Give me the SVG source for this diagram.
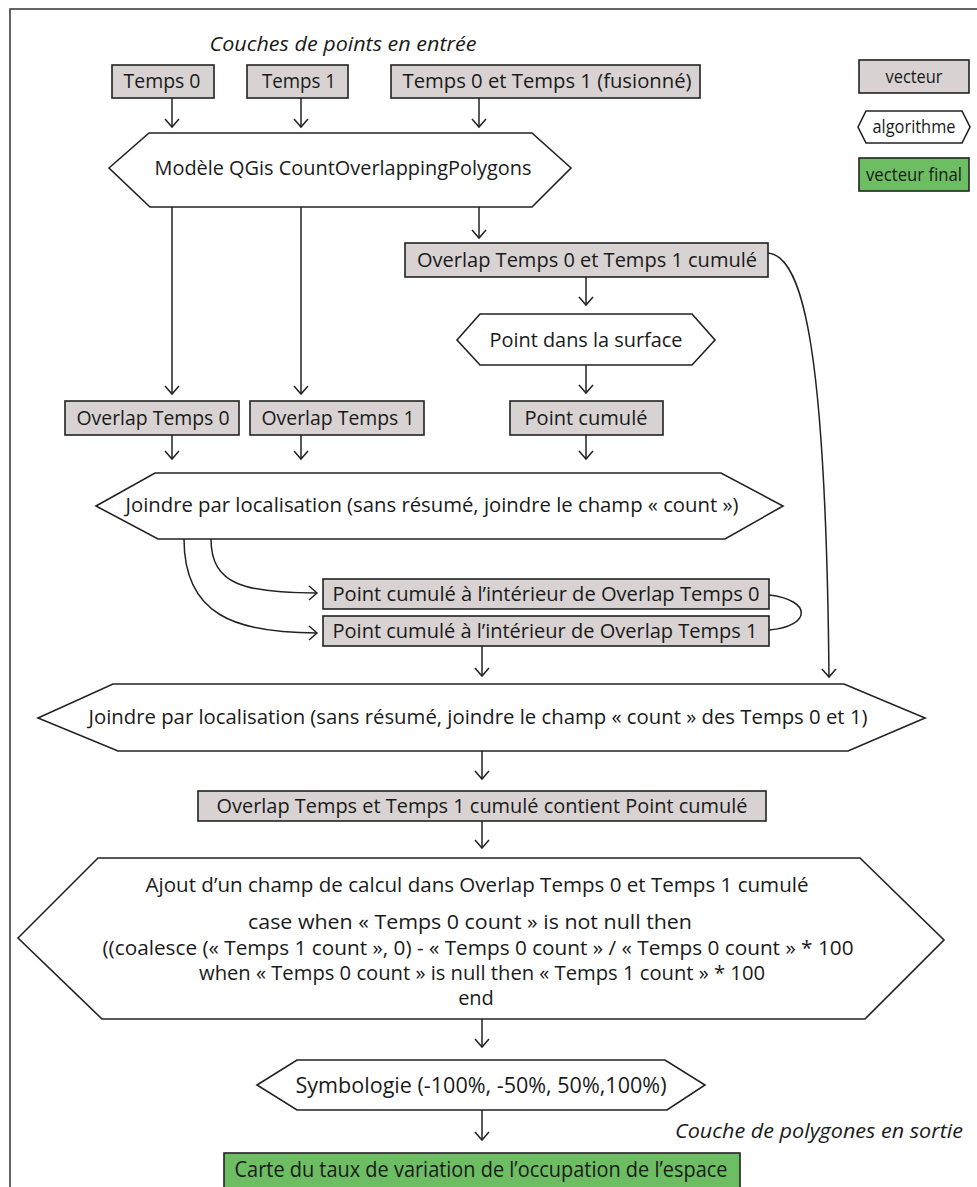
<svg xmlns="http://www.w3.org/2000/svg" width="977" height="1187" viewBox="0 0 977 1187">
<defs>
<style>
.t{font-family:"Open Sans","Noto Sans","Liberation Sans",sans-serif;font-size:20px;fill:#1a1a1a;text-anchor:middle}
.it{font-style:italic;font-size:20px}
.cd{font-size:21px}
.lg{font-size:19px}
.vec{fill:#d8d2d2;stroke:#222;stroke-width:1.6}
.fin{fill:#6dbd63;stroke:#222;stroke-width:1.6}
.alg{fill:#fff;stroke:#222;stroke-width:1.6}
.cn{fill:none;stroke:#222;stroke-width:1.5}
</style>
<marker id="ah" viewBox="-10 -8 12 16" refX="0" refY="0" markerWidth="12" markerHeight="16" markerUnits="userSpaceOnUse" orient="auto">
<path d="M-8,-7 L0,0 L-8,7" fill="none" stroke="#222" stroke-width="1.5"/>
</marker>
</defs>
<rect width="977" height="1187" fill="#fff"/>
<path d="M10,1187 V9 H977" fill="none" stroke="#333" stroke-width="1.5"/>

<g id="titles">
<text class="t it" x="343" y="51" textLength="267" lengthAdjust="spacingAndGlyphs">Couches de points en entrée</text>
<text class="t it" x="819" y="1138" textLength="288" lengthAdjust="spacingAndGlyphs">Couche de polygones en sortie</text>
</g>

<g id="legend">
<g id="leg-vecteur"><rect class="vec" x="859" y="60" width="110" height="33"/><text class="t lg" x="914" y="83" textLength="57" lengthAdjust="spacingAndGlyphs">vecteur</text></g>
<g id="leg-algo"><polygon class="alg" points="858,127 866,111 962,111 970,127 962,143 866,143"/><text class="t lg" x="914" y="133" textLength="83" lengthAdjust="spacingAndGlyphs">algorithme</text></g>
<g id="leg-final"><rect class="fin" x="859" y="158" width="110" height="33"/><text class="t lg" x="914" y="181" textLength="96" lengthAdjust="spacingAndGlyphs">vecteur final</text></g>
</g>

<g id="connectors">
<line class="cn" x1="172" y1="98" x2="172" y2="127" marker-end="url(#ah)"/>
<line class="cn" x1="301" y1="98" x2="301" y2="127" marker-end="url(#ah)"/>
<line class="cn" x1="479" y1="98" x2="479" y2="127" marker-end="url(#ah)"/>
<line class="cn" x1="172" y1="207" x2="172" y2="394" marker-end="url(#ah)"/>
<line class="cn" x1="301" y1="207" x2="301" y2="394" marker-end="url(#ah)"/>
<line class="cn" x1="479" y1="207" x2="479" y2="238" marker-end="url(#ah)"/>
<line class="cn" x1="586" y1="277" x2="586" y2="305" marker-end="url(#ah)"/>
<line class="cn" x1="586" y1="365" x2="586" y2="393" marker-end="url(#ah)"/>
<line class="cn" x1="172" y1="435" x2="172" y2="459" marker-end="url(#ah)"/>
<line class="cn" x1="301" y1="435" x2="301" y2="459" marker-end="url(#ah)"/>
<line class="cn" x1="586" y1="435" x2="586" y2="459" marker-end="url(#ah)"/>
<path class="cn" d="M768,253 C805,256 826,360 829,677" marker-end="url(#ah)"/>
<path class="cn" d="M211,539 C211,585 245,593 317,593" marker-end="url(#ah)"/>
<path class="cn" d="M184,539 C184,615 235,633 317,633" marker-end="url(#ah)"/>
<path class="cn" d="M769,595 C812,600 812,626 769,630"/>
<line class="cn" x1="482" y1="646" x2="482" y2="676" marker-end="url(#ah)"/>
<line class="cn" x1="482" y1="751" x2="482" y2="779" marker-end="url(#ah)"/>
<line class="cn" x1="482" y1="821" x2="482" y2="848" marker-end="url(#ah)"/>
<line class="cn" x1="482" y1="1019" x2="482" y2="1047" marker-end="url(#ah)"/>
<line class="cn" x1="482" y1="1110" x2="482" y2="1140" marker-end="url(#ah)"/>
</g>

<g id="n-temps0"><rect class="vec" x="112" y="65" width="102" height="33"/><text class="t" x="162" y="88" textLength="77" lengthAdjust="spacingAndGlyphs">Temps 0</text></g>
<g id="n-temps1"><rect class="vec" x="247" y="65" width="101" height="33"/><text class="t" x="299" y="88" textLength="74" lengthAdjust="spacingAndGlyphs">Temps 1</text></g>
<g id="n-fusion"><rect class="vec" x="391" y="65" width="309" height="33"/><text class="t" x="547" y="88" textLength="289" lengthAdjust="spacingAndGlyphs">Temps 0 et Temps 1 (fusionné)</text></g>

<g id="n-modele"><polygon class="alg" points="109,168 149,133 532,133 571,168 532,207 150,207"/><text class="t" x="343" y="175" textLength="377" lengthAdjust="spacingAndGlyphs">Modèle QGis CountOverlappingPolygons</text></g>

<g id="n-overlapcum"><rect class="vec" x="405" y="243" width="363" height="34"/><text class="t" x="587" y="267" textLength="340" lengthAdjust="spacingAndGlyphs">Overlap Temps 0 et Temps 1 cumulé</text></g>

<g id="n-pointsurf"><polygon class="alg" points="457,340 480,314 692,314 715,340 692,365 480,365"/><text class="t" x="586" y="347" textLength="193" lengthAdjust="spacingAndGlyphs">Point dans la surface</text></g>

<g id="n-ov0"><rect class="vec" x="65" y="401" width="174" height="34"/><text class="t" x="153" y="425" textLength="153" lengthAdjust="spacingAndGlyphs">Overlap Temps 0</text></g>
<g id="n-ov1"><rect class="vec" x="250" y="401" width="174" height="34"/><text class="t" x="338" y="425" textLength="153" lengthAdjust="spacingAndGlyphs">Overlap Temps 1</text></g>
<g id="n-pointcum"><rect class="vec" x="510" y="401" width="153" height="34"/><text class="t" x="586" y="425" textLength="123" lengthAdjust="spacingAndGlyphs">Point cumulé</text></g>

<g id="n-join1"><polygon class="alg" points="96,506 155,473 721,473 783,506 725,539 158,539"/><text class="t" x="432" y="512" textLength="613" lengthAdjust="spacingAndGlyphs">Joindre par localisation (sans résumé, joindre le champ « count »)</text></g>

<g id="n-pci0"><rect class="vec" x="323" y="579" width="446" height="30"/><text class="t" x="546" y="601" textLength="427" lengthAdjust="spacingAndGlyphs">Point cumulé à l’intérieur de Overlap Temps 0</text></g>
<g id="n-pci1"><rect class="vec" x="323" y="616" width="446" height="30"/><text class="t" x="545" y="638" textLength="425" lengthAdjust="spacingAndGlyphs">Point cumulé à l’intérieur de Overlap Temps 1</text></g>

<g id="n-join2"><polygon class="alg" points="38,718 113,684 844,684 925,718 848,751 118,751"/><text class="t" x="478" y="724" textLength="779" lengthAdjust="spacingAndGlyphs">Joindre par localisation (sans résumé, joindre le champ « count » des Temps 0 et 1)</text></g>

<g id="n-contient"><rect class="vec" x="198" y="791" width="568" height="30"/><text class="t" x="482" y="813" textLength="531" lengthAdjust="spacingAndGlyphs">Overlap Temps et Temps 1 cumulé contient Point cumulé</text></g>

<g id="n-ajout"><polygon class="alg" points="18,938 98,858 860,858 944,940 865,1019 102,1019"/>
<text class="t" x="477" y="892" textLength="663" lengthAdjust="spacingAndGlyphs">Ajout d’un champ de calcul dans Overlap Temps 0 et Temps 1 cumulé</text>
<text class="t" x="470" y="929" textLength="444" lengthAdjust="spacingAndGlyphs">case when « Temps 0 count » is not null then</text>
<text class="t" x="478" y="955" textLength="751" lengthAdjust="spacingAndGlyphs">((coalesce (« Temps 1 count », 0) - « Temps 0 count » / « Temps 0 count » * 100</text>
<text class="t" x="482" y="980" textLength="566" lengthAdjust="spacingAndGlyphs">when « Temps 0 count » is null then « Temps 1 count » * 100</text>
<text class="t" x="476" y="1005">end</text>
</g>

<g id="n-symbo"><polygon class="alg" points="257,1085 297,1060 665,1060 705,1085 667,1110 297,1110"/><text class="t cd" x="481" y="1093" textLength="371" lengthAdjust="spacingAndGlyphs">Symbologie (-100%, -50%, 50%,100%)</text></g>

<g id="n-carte"><rect class="fin" x="224" y="1153" width="516" height="40"/><text class="t cd" x="481" y="1177" textLength="493" lengthAdjust="spacingAndGlyphs">Carte du taux de variation de l’occupation de l’espace</text></g>
</svg>
